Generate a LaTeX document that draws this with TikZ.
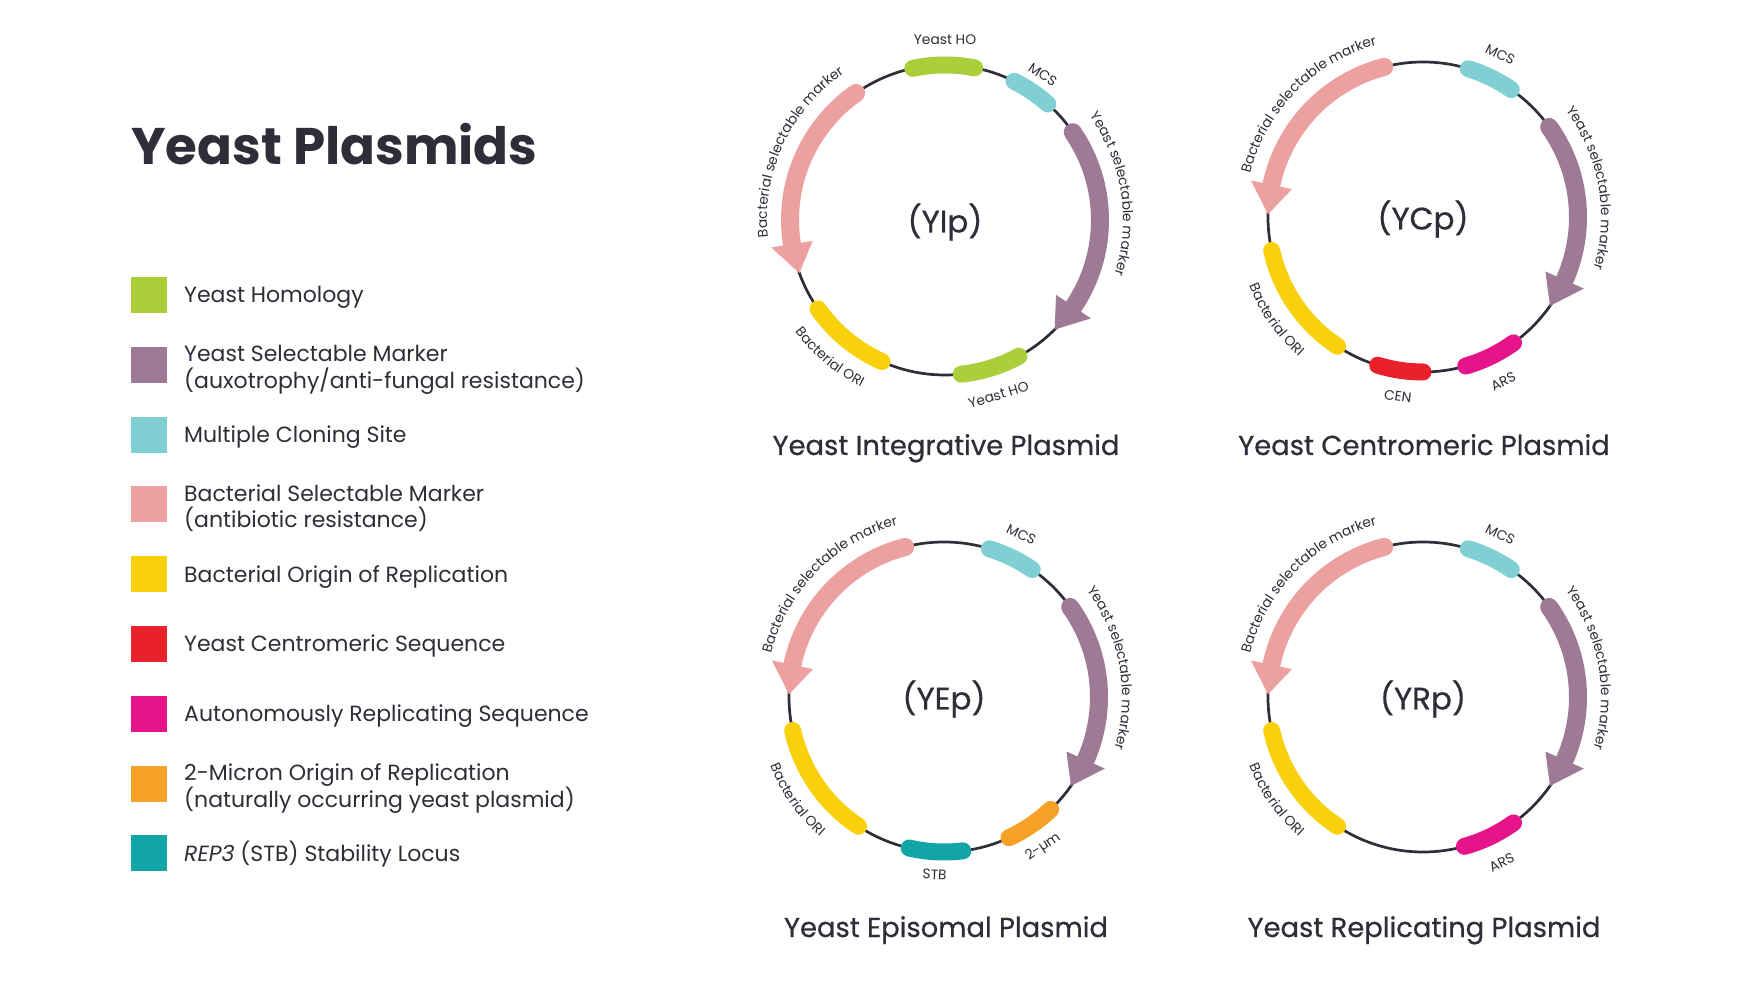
\documentclass[tikz,border=0pt]{standalone}
\usepackage{fontspec}
\setmainfont{Poppins}
\newfontfamily\capfont[FakeBold=0.6]{Poppins}
\usetikzlibrary{decorations.text}
\definecolor{ink}{HTML}{2E2E38}
\definecolor{cHO}{HTML}{AACF3A}
\definecolor{cYSM}{HTML}{9E7A96}
\definecolor{cMCS}{HTML}{7FCFD3}
\definecolor{cBSM}{HTML}{EDA0A0}
\definecolor{cORI}{HTML}{F8D10C}
\definecolor{cCEN}{HTML}{E8212B}
\definecolor{cARS}{HTML}{E5148A}
\definecolor{cTWO}{HTML}{F5A027}
\definecolor{cSTB}{HTML}{12A5A8}
\newcommand\lblfont{\fontsize{13.8}{16}\selectfont}
\tikzset{
  backbone/.style={draw=ink, line width=2.7pt},
  segline/.style={line width=17pt, line cap=round, draw=#1},
  arrline/.style={line width=18pt, line cap=round, draw=#1},
  lbl/.style={font=\lblfont, text=ink, inner sep=0pt},
  ctr/.style={font=\capfont\fontsize{31}{36}\selectfont, text=ink, inner sep=0pt},
  caption/.style={font=\capfont\fontsize{27.4}{32}\selectfont, text=ink, inner sep=0pt, anchor=base},
  legbox/.style={minimum size=36pt, inner sep=0pt, draw=none},
  legtext/.style={font=\fontsize{22}{26.6}\selectfont, text=ink, inner sep=0pt, anchor=base west, align=left},
}
% block on the backbone: colour, start angle, end angle
\newcommand\plblock[3]{\draw[segline=#1] (#2:155) arc[start angle=#2, end angle=#3, radius=155];}
% arrow on the backbone: colour, start angle, head base angle, tip angle
\newcommand\plarrow[4]{%
  \draw[arrline=#1] (#2:155) arc[start angle=#2, end angle=#3, radius=155];
  \fill[#1] (#3:134) -- (#4:155) -- (#3:176) -- cycle;}
% text along an arc: radius, start, end, text
\newcommand\arclabel[4]{\path[decorate, decoration={text along path, text align=center, text color=ink, text={|\lblfont|#4}}] (#2:#1) arc[start angle=#2, end angle=#3, radius=#1];}
\begin{document}
\begin{tikzpicture}[x=1pt,y=1pt]
\useasboundingbox (0,0) rectangle (1742,980);
\fill[white] (0,0) rectangle (1742,980);

% ---------- title and legend ----------
\node[anchor=base west, inner sep=0pt, text=ink, font=\fontsize{51.5}{58}\selectfont\bfseries] (title) at (131,815) {Yeast Plasmids};

\node[legbox, fill=cHO]  (k1) at (149,685) {};
\node[legbox, fill=cYSM] (k2) at (149,615.2) {};
\node[legbox, fill=cMCS] (k3) at (149,545.4) {};
\node[legbox, fill=cBSM] (k4) at (149,475.6) {};
\node[legbox, fill=cORI] (k5) at (149,405.8) {};
\node[legbox, fill=cCEN] (k6) at (149,336) {};
\node[legbox, fill=cARS] (k7) at (149,266.2) {};
\node[legbox, fill=cTWO] (k8) at (149,196.4) {};
\node[legbox, fill=cSTB] (k9) at (149,126.6) {};

\node[legtext] (t1) at (184,677) {Yeast Homology};
\node[legtext] (t2) at (184,591.6) {Yeast Selectable Marker\\(auxotrophy/anti-fungal resistance)};
\node[legtext] (t3) at (184,537.4) {Multiple Cloning Site};
\node[legtext] (t4) at (184,452) {Bacterial Selectable Marker\\(antibiotic resistance)};
\node[legtext] (t5) at (184,397.8) {Bacterial Origin of Replication};
\node[legtext] (t6) at (184,328) {Yeast Centromeric Sequence};
\node[legtext] (t7) at (184,258.2) {Autonomously Replicating Sequence};
\node[legtext] (t8) at (184,172.8) {2-Micron Origin of Replication\\(naturally occurring yeast plasmid)};
\node[legtext] (t9) at (184,118.6) {\textit{REP3} (STB) Stability Locus};

% ---------- YIp ----------
\begin{scope}[shift={(945,760)}]
  \draw[backbone] (0,0) circle[radius=155];
  \plblock{cHO}{79}{102}
  \plblock{cMCS}{48.5}{63.5}
  \plarrow{cYSM}{34.5}{-34}{-45}
  \plarrow{cBSM}{125}{189}{200}
  \plblock{cORI}{215}{246}
  \plblock{cHO}{276}{298.5}
  \node[ctr] (ipc) at (0,-2) {(YIp)};
  \node[lbl] (ipHOa) at (90:180) {Yeast HO};
  \node[lbl, rotate=-34] (ipMCS) at (56:175) {MCS};
  \node[lbl, rotate=17] (ipHOb) at (287:183) {Yeast HO};
  \arclabel{178}{195}{115}{Bacterial selectable marker}
  \arclabel{178}{49}{-31}{Yeast selectable marker}
  \arclabel{187}{200}{260}{Bacterial ORI}
\end{scope}
\node[caption] (ipcap) at (946,525) {Yeast Integrative Plasmid};

% ---------- YCp ----------
\begin{scope}[shift={(1423,763)}]
  \draw[backbone] (0,0) circle[radius=155];
  \plblock{cMCS}{55.3}{73}
  \plarrow{cYSM}{35.5}{-24}{-35}
  \plarrow{cBSM}{104.5}{168}{179}
  \plblock{cORI}{192.5}{236.5}
  \plblock{cCEN}{253}{270}
  \plblock{cARS}{286}{305.7}
  \node[ctr] (cpc) at (0,-2) {(YCp)};
  \node[lbl, rotate=-26] (cpMCS) at (64.6:180) {MCS};
  \node[lbl, rotate=-8] (cpCEN) at (262:181) {CEN};
  \node[lbl, rotate=26] (cpARS) at (296:183) {ARS};
  \arclabel{178}{175}{96}{Bacterial selectable marker}
  \arclabel{178}{50}{-30}{Yeast selectable marker}
  \arclabel{187}{185}{245}{Bacterial ORI}
\end{scope}
\node[caption] (cpcap) at (1424,525) {Yeast Centromeric Plasmid};

% ---------- YEp ----------
\begin{scope}[shift={(944,283)}]
  \draw[backbone] (0,0) circle[radius=155];
  \plblock{cMCS}{55.3}{73}
  \plarrow{cYSM}{35.5}{-24}{-35}
  \plarrow{cBSM}{104.5}{168}{179}
  \plblock{cORI}{192.5}{236.5}
  \plblock{cSTB}{257}{277}
  \plblock{cTWO}{294.8}{313.5}
  \node[ctr] (epc) at (0,-2) {(YEp)};
  \node[lbl, rotate=-26] (epMCS) at (64.6:180) {MCS};
  \node[lbl, rotate=-3] (epSTB) at (267:178) {STB};
  \node[lbl, rotate=33.5] (epTWO) at (303.5:180) {2-µm};
  \arclabel{178}{175}{96}{Bacterial selectable marker}
  \arclabel{178}{50}{-30}{Yeast selectable marker}
  \arclabel{187}{185}{245}{Bacterial ORI}
\end{scope}
\node[caption] (epcap) at (946,43) {Yeast Episomal Plasmid};

% ---------- YRp ----------
\begin{scope}[shift={(1423,283)}]
  \draw[backbone] (0,0) circle[radius=155];
  \plblock{cMCS}{55.3}{73}
  \plarrow{cYSM}{35.5}{-24}{-35}
  \plarrow{cBSM}{104.5}{168}{179}
  \plblock{cORI}{192.5}{236.5}
  \plblock{cARS}{285.5}{305.7}
  \node[ctr] (rpc) at (0,-2) {(YRp)};
  \node[lbl, rotate=-26] (rpMCS) at (64.6:180) {MCS};
  \node[lbl, rotate=25.5] (rpARS) at (295.5:183) {ARS};
  \arclabel{178}{175}{96}{Bacterial selectable marker}
  \arclabel{178}{50}{-30}{Yeast selectable marker}
  \arclabel{187}{185}{245}{Bacterial ORI}
\end{scope}
\node[caption] (rpcap) at (1424,43) {Yeast Replicating Plasmid};
\end{tikzpicture}
\end{document}
